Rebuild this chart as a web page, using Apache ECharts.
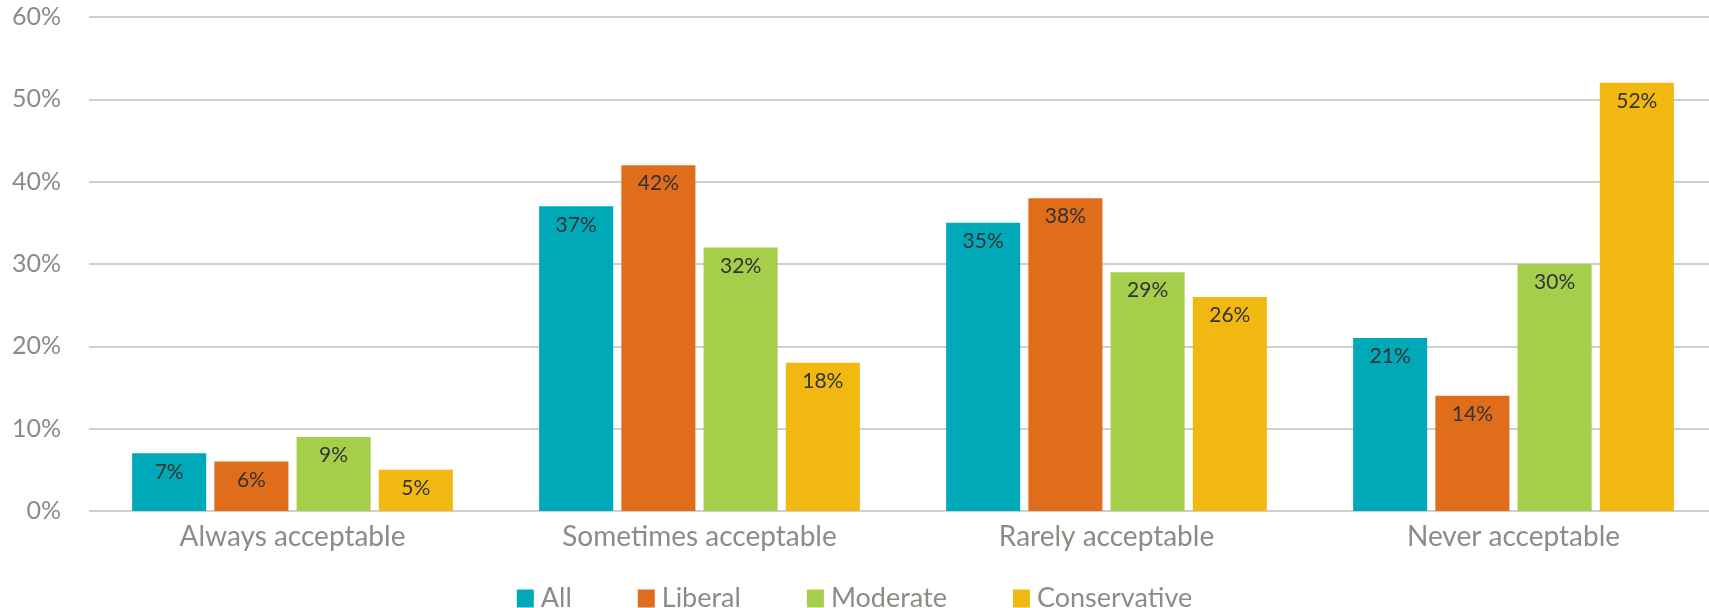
<!DOCTYPE html>
<html><head><meta charset="utf-8">
<script src="https://cdn.jsdelivr.net/npm/echarts@6/dist/echarts.min.js"></script>
<style>html,body{margin:0;padding:0;background:#fff}#c{width:1709px;height:608px}</style>
</head><body><div id="c"></div>
<script>
const categories = ['Always acceptable', 'Sometimes acceptable', 'Rarely acceptable', 'Never acceptable'];
const seriesNames = ['All', 'Liberal', 'Moderate', 'Conservative'];
const allVals = [7, 37, 35, 21];
const liberalVals = [6, 42, 38, 14];
const moderateVals = [9, 32, 29, 30];
const conservativeVals = [5, 18, 26, 52];
const colors = ['#00A9B7', '#E06D1B', '#A5CE4B', '#F1B811'];
const FONT = 'Lato, "Liberation Sans", sans-serif';

const chart = echarts.init(document.getElementById('c'), null, {renderer: 'canvas'});
const values = [allVals, liberalVals, moderateVals, conservativeVals];
chart.setOption({
  animation: false,
  color: colors,
  grid: {left: 89, width: 1628, top: 17, bottom: 97, containLabel: false, outerBoundsMode: 'none'},
  legend: {
    data: seriesNames, top: 580, left: 'center', icon: 'rect',
    itemWidth: 17, itemHeight: 18, itemGap: 66,
    textStyle: {fontFamily: FONT, fontSize: 27, color: '#8C8C86', padding: [0,0,0,2]}
  },
  xAxis: {
    type: 'category', data: categories,
    axisLine: {show: false}, axisTick: {show: false},
    axisLabel: {fontFamily: FONT, fontSize: 28, color: '#8C8C86', margin: 12}
  },
  yAxis: {
    type: 'value', min: 0, max: 60, interval: 10,
    axisLabel: {formatter: '{value}%', fontFamily: FONT, fontSize: 25, color: '#8C8C86', margin: 28},
    splitLine: {lineStyle: {color: '#BFBFBF', width: 1.5}},
    axisLine: {show: false}, axisTick: {show: false}
  },
  series: seriesNames.map((n, i) => ({
    name: n, type: 'bar', data: values[i],
    barWidth: '18.2%', barGap: '11%',
    label: {show: true, position: 'insideTop', distance: 8, formatter: '{c}%',
            fontFamily: FONT, fontSize: 21, color: '#333333'}
  }))
});
</script></body></html>
